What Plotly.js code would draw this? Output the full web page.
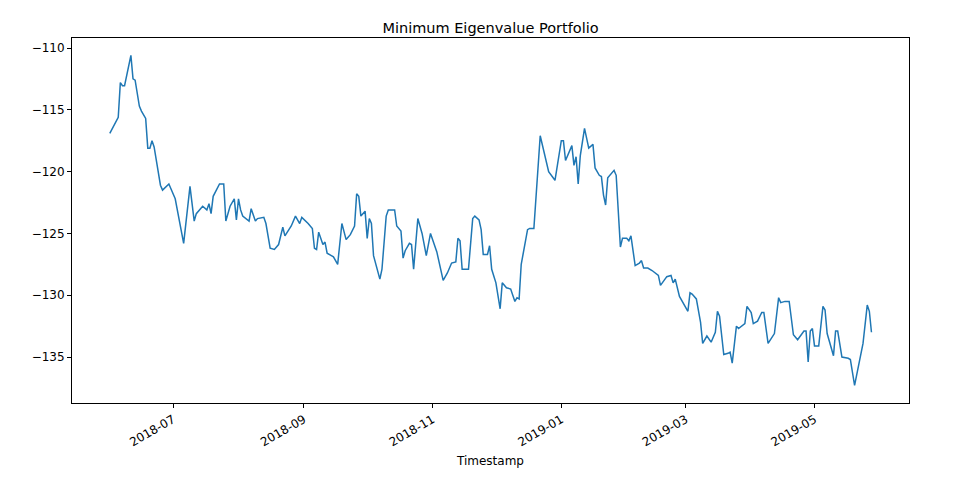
<!DOCTYPE html>
<html>
<head>
<meta charset="utf-8">
<script src="https://cdn.plot.ly/plotly-3.0.1.min.js"></script>
<style>html,body{margin:0;padding:0;background:#fff;}#chart{width:970px;height:483px;}</style>
</head>
<body>
<div id="chart"></div>
<script>
const dates = [
"2018-06-01","2018-06-04","2018-06-05","2018-06-06","2018-06-07","2018-06-08","2018-06-11","2018-06-12","2018-06-13","2018-06-15",
"2018-06-16","2018-06-18","2018-06-19","2018-06-20","2018-06-21","2018-06-22","2018-06-25","2018-06-26","2018-06-29","2018-07-02",
"2018-07-03","2018-07-06","2018-07-09","2018-07-11","2018-07-12","2018-07-15","2018-07-17","2018-07-18","2018-07-19","2018-07-20",
"2018-07-23","2018-07-25","2018-07-26","2018-07-28","2018-07-30","2018-07-31","2018-08-01","2018-08-02","2018-08-03","2018-08-06",
"2018-08-07","2018-08-09","2018-08-10","2018-08-13","2018-08-14","2018-08-16","2018-08-18","2018-08-20","2018-08-22","2018-08-23",
"2018-08-26","2018-08-28","2018-08-30","2018-08-31","2018-09-03","2018-09-05","2018-09-06","2018-09-07","2018-09-08","2018-09-10",
"2018-09-11","2018-09-12","2018-09-14","2018-09-15","2018-09-17","2018-09-19","2018-09-21","2018-09-23","2018-09-25","2018-09-26",
"2018-09-27","2018-09-28","2018-09-30","2018-10-01","2018-10-02","2018-10-03","2018-10-04","2018-10-07","2018-10-08","2018-10-10",
"2018-10-11","2018-10-14","2018-10-15","2018-10-17","2018-10-18","2018-10-19","2018-10-21","2018-10-22","2018-10-23","2018-10-25",
"2018-10-27","2018-10-29","2018-10-31","2018-11-03","2018-11-06","2018-11-08","2018-11-10","2018-11-12","2018-11-13","2018-11-14",
"2018-11-15","2018-11-18","2018-11-20","2018-11-21","2018-11-23","2018-11-24","2018-11-25","2018-11-27","2018-11-28","2018-11-29",
"2018-12-01","2018-12-03","2018-12-04","2018-12-06","2018-12-08","2018-12-10","2018-12-11","2018-12-12","2018-12-13","2018-12-16",
"2018-12-17","2018-12-19","2018-12-22","2018-12-26","2018-12-29","2019-01-01","2019-01-02","2019-01-03","2019-01-06","2019-01-07",
"2019-01-08","2019-01-09","2019-01-10","2019-01-12","2019-01-14","2019-01-16","2019-01-17","2019-01-19","2019-01-20","2019-01-21",
"2019-01-22","2019-01-23","2019-01-26","2019-01-27","2019-01-29","2019-01-30","2019-02-01","2019-02-02","2019-02-03","2019-02-05",
"2019-02-07","2019-02-08","2019-02-09","2019-02-11","2019-02-13","2019-02-16","2019-02-17","2019-02-20","2019-02-22","2019-02-23",
"2019-02-24","2019-02-26","2019-03-02","2019-03-03","2019-03-04","2019-03-06","2019-03-08","2019-03-09","2019-03-11","2019-03-13",
"2019-03-15","2019-03-16","2019-03-17","2019-03-19","2019-03-21","2019-03-22","2019-03-23","2019-03-25","2019-03-26","2019-03-29",
"2019-03-30","2019-04-01","2019-04-02","2019-04-04","2019-04-06","2019-04-07","2019-04-09","2019-04-12","2019-04-14","2019-04-15",
"2019-04-17","2019-04-19","2019-04-21","2019-04-23","2019-04-26","2019-04-27","2019-04-28","2019-04-29","2019-04-30","2019-05-01",
"2019-05-03","2019-05-05","2019-05-06","2019-05-07","2019-05-10","2019-05-11","2019-05-12","2019-05-14","2019-05-17","2019-05-18",
"2019-05-20","2019-05-21","2019-05-24","2019-05-26","2019-05-27","2019-05-28"
];
const portfolio = [
-116.9,-115.9,-115.6,-112.8,-113.05,-113.05,-110.6,-112.5,-112.6,-114.7,
-115.1,-115.7,-118.1,-118.1,-117.5,-118.0,-121.1,-121.5,-121.0,-122.2,
-123.1,-125.8,-121.2,-124.0,-123.4,-122.8,-123.1,-122.6,-123.4,-122.0,
-121.0,-121.0,-124.0,-122.8,-122.2,-123.9,-122.2,-123.1,-123.6,-124.0,
-123.0,-124.0,-123.8,-123.7,-124.2,-126.2,-126.3,-125.9,-124.5,-125.2,
-124.4,-123.6,-124.2,-123.7,-124.2,-124.6,-126.2,-126.3,-124.9,-125.9,
-125.7,-126.6,-126.8,-126.9,-127.5,-124.2,-125.5,-125.1,-124.4,-121.8,
-122.0,-123.6,-123.2,-125.4,-123.8,-124.2,-126.8,-128.7,-127.9,-123.6,
-123.1,-123.1,-124.4,-124.8,-127.0,-126.4,-125.8,-125.9,-127.9,-123.8,
-125.0,-126.8,-125.0,-126.5,-128.8,-128.2,-127.4,-127.3,-125.4,-125.6,
-127.9,-127.9,-123.8,-123.6,-123.9,-124.7,-126.7,-126.7,-126.0,-127.9,
-129.0,-131.1,-129.0,-129.4,-129.5,-130.5,-130.2,-130.3,-127.5,-124.7,
-124.6,-124.6,-117.1,-120.0,-120.7,-117.5,-117.5,-119.1,-117.9,-119.5,
-118.8,-121.0,-118.7,-116.5,-118.1,-117.8,-119.7,-120.3,-120.4,-121.9,
-122.7,-120.5,-119.9,-120.3,-126.1,-125.4,-125.4,-125.6,-125.2,-127.6,
-127.4,-127.2,-127.8,-127.8,-128.0,-128.4,-129.2,-128.5,-128.4,-129.0,
-128.7,-130.1,-131.3,-129.8,-129.9,-130.3,-132.2,-133.9,-133.3,-133.8,
-133.0,-131.3,-131.7,-134.8,-134.7,-134.6,-135.5,-132.5,-132.7,-132.3,
-130.9,-131.4,-132.3,-132.1,-131.4,-131.4,-133.9,-133.1,-130.2,-130.6,
-130.5,-130.5,-133.2,-133.6,-132.9,-132.9,-135.4,-132.9,-132.7,-134.1,
-134.1,-130.9,-131.2,-133.1,-134.9,-132.9,-132.9,-135.0,-135.1,-135.2,
-137.3,-136.5,-133.9,-130.8,-131.3,-133.0
];
const xTickVals = ["2018-07-01","2018-09-01","2018-11-01","2019-01-01","2019-03-01","2019-05-01"];
const xTickText = ["2018-07","2018-09","2018-11","2019-01","2019-03","2019-05"];
const yTickVals = [-110,-115,-120,-125,-130,-135];
const yTickText = ["\u2212110","\u2212115","\u2212120","\u2212125","\u2212130","\u2212135"];

const font = "DejaVu Sans, sans-serif";
const trace = {
  x: dates, y: portfolio, type: "scatter", mode: "lines",
  line: {color: "#1f77b4", width: 1.5}, hoverinfo: "x+y"
};
const layout = {
  width: 970, height: 483,
  margin: {l: 72, r: 61, t: 38, b: 80},
  paper_bgcolor: "#ffffff", plot_bgcolor: "#ffffff",
  showlegend: false,
  font: {family: font, size: 12, color: "#000"},
  title: {text: "Minimum Eigenvalue Portfolio", font: {family: font, size: 14.5, color: "#000"},
          x: 0.5, xref: "paper", y: 1, yref: "paper", yanchor: "bottom", pad: {b: 5}},
  xaxis: {
    type: "date", range: ["2018-05-14 02:00", "2019-06-14 19:00"],
    tickmode: "array", tickvals: xTickVals, ticktext: xTickText, tickangle: -30,
    ticks: "outside", ticklen: 4, tickwidth: 1, tickcolor: "#000",
    showgrid: false, zeroline: false, showline: true, mirror: true, linecolor: "#000", linewidth: 1,
    tickfont: {family: font, size: 12, color: "#000"},
    title: {text: "Timestamp", font: {family: font, size: 12, color: "#000"}, standoff: 8}
  },
  yaxis: {
    range: [-138.72, -109.19],
    tickmode: "array", tickvals: yTickVals, ticktext: yTickText,
    ticks: "outside", ticklen: 4, tickwidth: 1, tickcolor: "#000",
    showgrid: false, zeroline: false, showline: true, mirror: true, linecolor: "#000", linewidth: 1,
    tickfont: {family: font, size: 12, color: "#000"}
  }
};
Plotly.newPlot("chart", [trace], layout, {displayModeBar: false, staticPlot: true});
</script>
</body>
</html>
